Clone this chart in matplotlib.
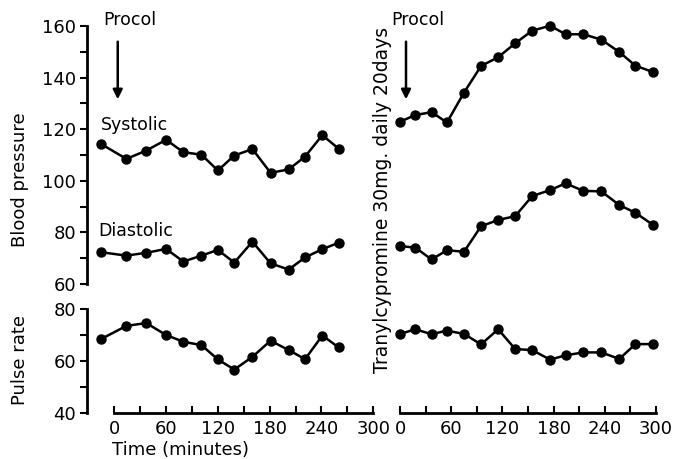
import matplotlib
matplotlib.use("Agg")
import matplotlib.pyplot as plt

# left panel: Procol alone
t_left = [-15, 14, 37, 60, 80, 101, 120, 139, 160, 181, 202, 221, 241, 260]
sys_left = [114.2, 108.5, 111.7, 115.9, 111.1, 110.1, 104.0, 109.8, 112.3, 103.1, 104.4, 109.4, 117.7, 112.4]
dia_left = [72.3, 71.0, 72.1, 73.6, 68.7, 71.0, 73.2, 68.3, 76.4, 68.0, 65.6, 70.3, 73.5, 76.0]
pulse_left = [68.5, 73.5, 74.6, 70.0, 67.4, 66.1, 60.6, 56.7, 61.6, 67.8, 64.2, 60.7, 69.8, 65.2]

# right panel: Procol after tranylcypromine
t_right = [0, 18, 37, 55, 75, 95, 115, 135, 155, 176, 194, 215, 236, 257, 276, 297]
sys_right = [122.9, 125.5, 126.6, 122.6, 134.2, 144.5, 147.9, 153.3, 158.2, 160.1, 156.8, 156.8, 154.7, 149.9, 144.6, 142.1]
dia_right = [74.7, 74.1, 69.5, 73.1, 72.5, 82.4, 84.8, 86.3, 94.1, 96.4, 99.0, 96.1, 95.9, 90.6, 87.6, 82.8]
pulse_right = [70.4, 72.2, 70.3, 71.7, 70.4, 66.4, 72.2, 64.6, 64.2, 60.5, 62.2, 63.3, 63.3, 60.8, 66.5, 66.5]

W, H = 681, 459
FS = 12.5
TICK_FS = 13


def box(x0, x1, y0, y1):
    # pixel box -> figure fraction [left, bottom, width, height]
    return [x0 / W, 1 - y1 / H, (x1 - x0) / W, (y1 - y0) / H]


def style(ax, show_y, show_x):
    for s in ["top", "right"]:
        ax.spines[s].set_visible(False)
    ax.spines["left"].set_visible(show_y)
    ax.spines["bottom"].set_visible(show_x)
    ax.spines["left"].set_linewidth(2)
    ax.spines["bottom"].set_linewidth(2)
    ax.tick_params(axis="y", which="both", direction="out", length=5, width=1.5,
                   labelsize=TICK_FS, pad=3, left=show_y, labelleft=show_y)
    ax.tick_params(axis="x", which="both", direction="in", length=5, width=1.5,
                   labelsize=TICK_FS, pad=5, bottom=show_x, labelbottom=show_x)
    if show_x:
        ax.spines["bottom"].set_bounds(0, 300)
        ax.set_xticks(range(0, 301, 60))
        ax.set_xticks(range(30, 300, 60), minor=True)


def series(ax, t, v):
    ax.plot(t, v, color="black", lw=1.8, marker="o", ms=6.5, clip_on=False)


fig = plt.figure(figsize=(W / 100, H / 100), dpi=100)

bp_l = fig.add_axes(box(87, 377.6, 26, 284))
pr_l = fig.add_axes(box(87, 377.6, 309, 413))
bp_r = fig.add_axes(box(391.5, 664.5, 26, 284))
pr_r = fig.add_axes(box(391.5, 664.5, 309, 413))

for ax in (bp_l, pr_l):
    ax.set_xlim(-31.6, 305)
for ax in (bp_r, pr_r):
    ax.set_xlim(-10, 310)
for ax in (bp_l, bp_r):
    ax.set_ylim(60, 160)
    ax.set_yticks(range(60, 161, 20))
    ax.set_yticks(range(70, 160, 20), minor=True)
for ax in (pr_l, pr_r):
    ax.set_ylim(40, 80)
    ax.set_yticks([40, 60, 80])
    ax.set_yticks([50, 70], minor=True)

style(bp_l, True, False)
style(pr_l, True, True)
style(bp_r, False, False)
style(pr_r, False, True)
for ax in (bp_l, pr_l, bp_r, pr_r):
    ax.patch.set_visible(False)

series(bp_l, t_left, sys_left)
series(bp_l, t_left, dia_left)
series(pr_l, t_left, pulse_left)
series(bp_r, t_right, sys_right)
series(bp_r, t_right, dia_right)
series(pr_r, t_right, pulse_right)

bp_l.text(-15, 121.5, "Systolic", fontsize=FS, va="center", ha="left")
bp_l.text(-19, 80.7, "Diastolic", fontsize=FS, va="center", ha="left")

for ax, tx in ((bp_l, 4), (bp_r, 7)):
    ax.annotate("", xy=(tx, 130.5), xytext=(tx, 155),
                arrowprops=dict(arrowstyle="-|>", color="black", lw=1.8,
                                mutation_scale=14), annotation_clip=False)
    ax.text(tx - 17, 162.5, "Procol", fontsize=FS, ha="left", va="center",
            clip_on=False)

fig.text(20 / W, 1 - 180 / H, "Blood pressure", rotation=90, fontsize=13,
         ha="center", va="center")
fig.text(20 / W, 1 - 360 / H, "Pulse rate", rotation=90, fontsize=13,
         ha="center", va="center")
fig.text(181 / W, 1 - 450 / H, "Time (minutes)", fontsize=13,
         ha="center", va="center")
fig.text(383 / W, 1 - 200 / H, "Tranylcypromine 30mg. daily 20days",
         rotation=90, fontsize=13.5, ha="center", va="center")

fig.savefig("out.png", dpi=100)
